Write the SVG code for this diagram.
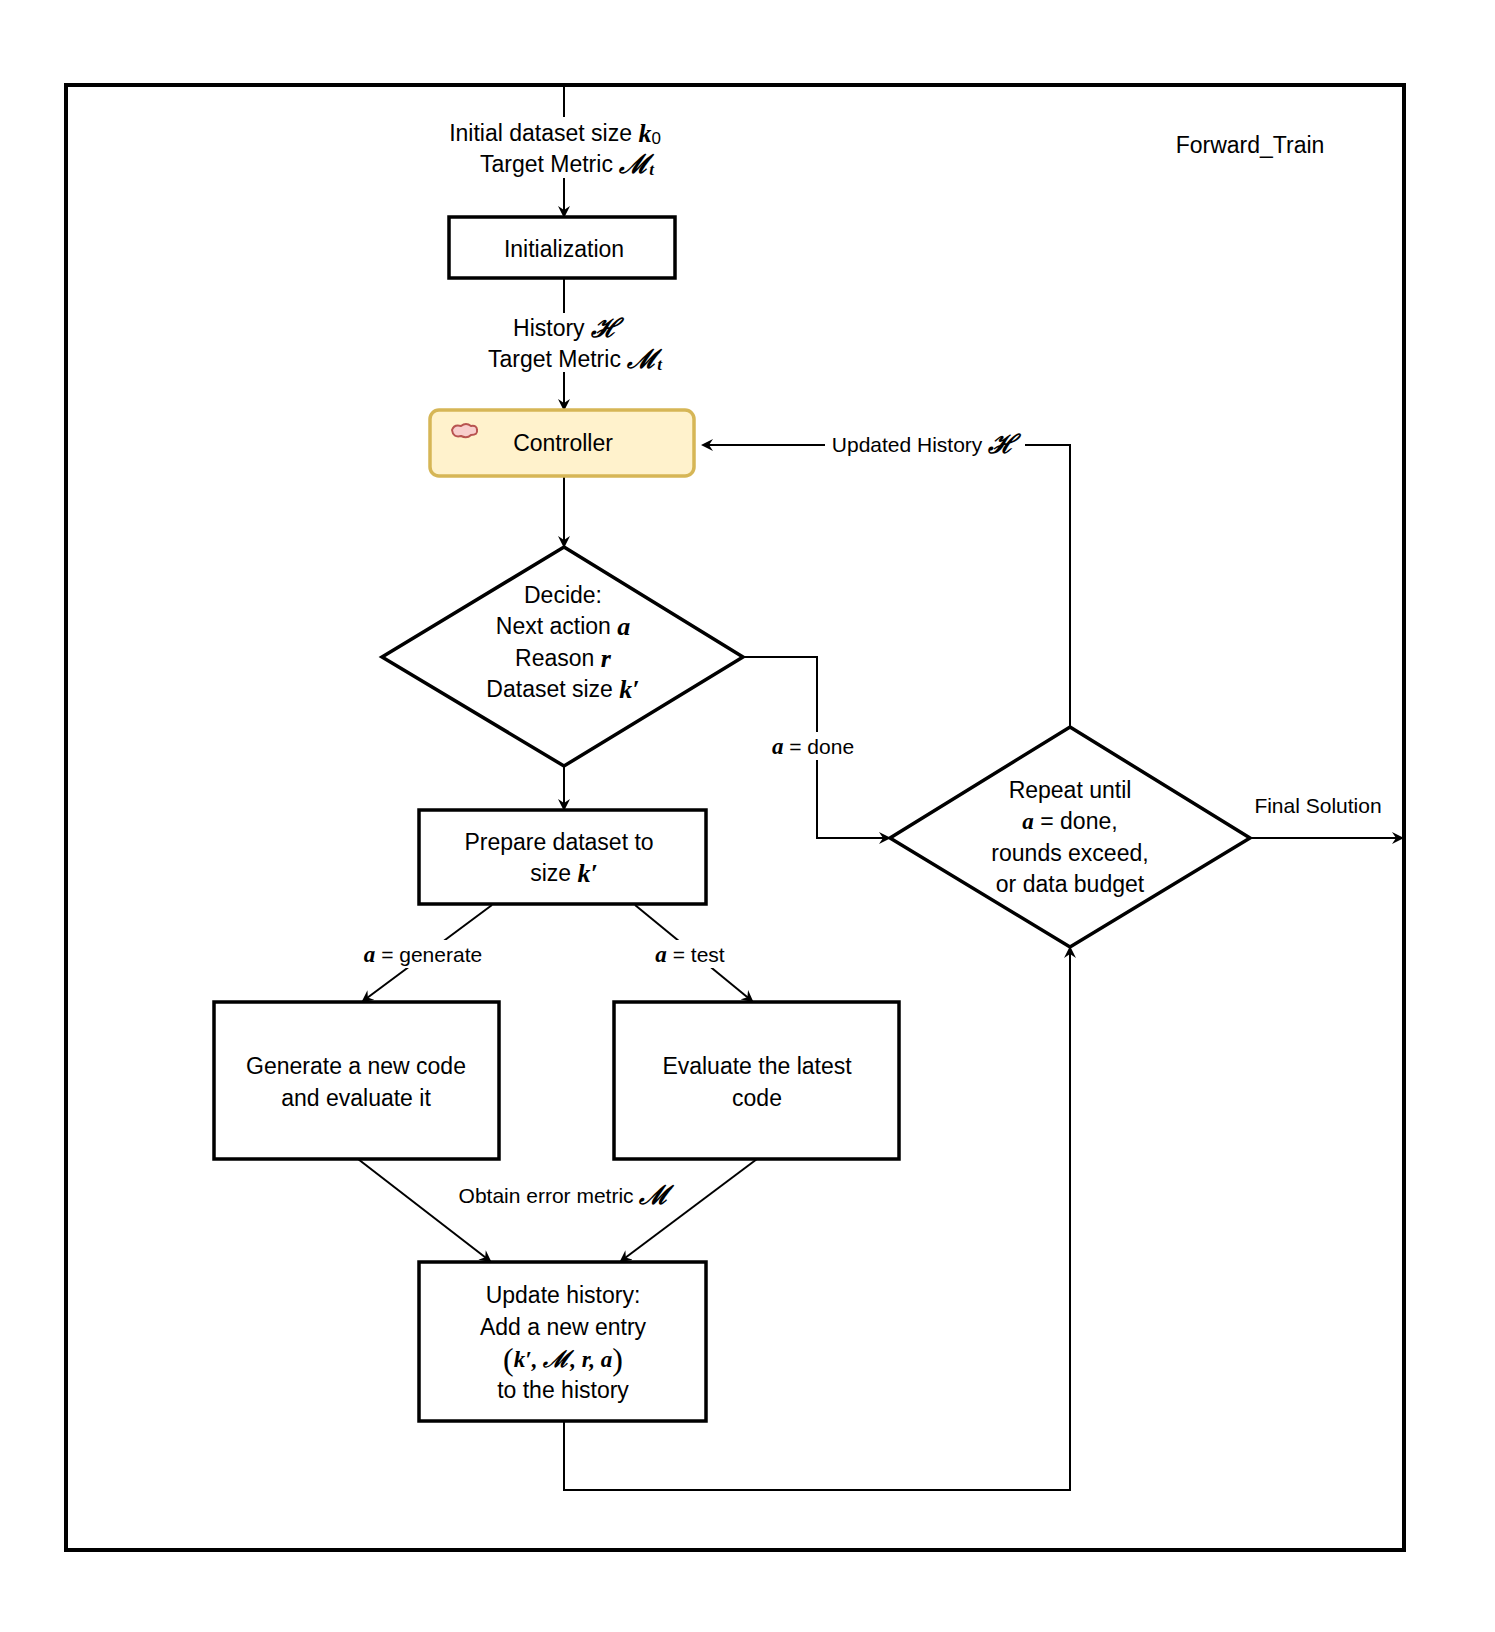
<svg xmlns="http://www.w3.org/2000/svg" width="1495" height="1632" viewBox="0 0 1495 1632">
<defs>
<marker id="ah" markerWidth="12" markerHeight="12" refX="10" refY="6" orient="auto" markerUnits="userSpaceOnUse"><path d="M0,0 L12,6 L0,12 L4,6 Z" fill="#000"/></marker>
<style>
text{font-family:"Liberation Sans",Arial,sans-serif;font-size:23px;fill:#000;text-anchor:middle;dominant-baseline:central}
.s{font-size:21px}
.m{font-family:"Liberation Serif","DejaVu Serif",serif;font-style:italic;font-weight:bold}
.box{fill:#fff;stroke:#000;stroke-width:3.5}
.c{fill:none;stroke:#000;stroke-width:2;marker-end:url(#ah)}
.l{fill:none;stroke:#000;stroke-width:2}
</style>
</defs>
<rect width="1495" height="1632" fill="#fff"/>
<rect x="66" y="85" width="1338" height="1465" fill="none" stroke="#000" stroke-width="4"/>
<text x="1250" y="145">Forward_Train</text>
<g id="connectors">
<line class="l" x1="564" y1="87" x2="564" y2="117"/>
<line class="c" x1="564" y1="178" x2="564" y2="216"/>
<line class="l" x1="564" y1="278" x2="564" y2="313"/>
<line class="c" x1="564" y1="372" x2="564" y2="409"/>
<line class="c" x1="564" y1="476" x2="564" y2="546"/>
<line class="c" x1="564" y1="766" x2="564" y2="809"/>
<polyline class="c" points="743,657 817,657 817,838 889,838"/>
<polyline class="c" points="1070,727 1070,445 703,445"/>
<line class="c" x1="1250" y1="838" x2="1402" y2="838"/>
<line class="c" x1="492" y1="905" x2="363" y2="1001"/>
<line class="c" x1="635" y1="905" x2="752" y2="1001"/>
<line class="c" x1="358" y1="1159" x2="490" y2="1261"/>
<line class="c" x1="757" y1="1159" x2="621" y2="1261"/>
<polyline class="c" points="564,1421 564,1490 1070,1490 1070,948"/>
<rect x="405" y="120" width="300" height="58" fill="#fff"/>
<text x="555" y="133">Initial dataset size <tspan class="m" font-size="26">k</tspan><tspan font-size="17" dy="5">0</tspan></text>
<text x="567" y="164">Target Metric <tspan class="m" font-size="26">ℳ</tspan><tspan class="m" font-size="17" dy="5">t</tspan></text>
<rect x="470" y="313" width="210" height="58" fill="#fff"/>
<text x="566" y="328">History <tspan class="m" font-size="26">ℋ</tspan></text>
<text x="575" y="359">Target Metric <tspan class="m" font-size="26">ℳ</tspan><tspan class="m" font-size="17" dy="5">t</tspan></text>
<rect x="825" y="430" width="200" height="30" fill="#fff"/>
<text x="924" y="444" class="s">Updated History <tspan class="m" font-size="26">ℋ</tspan></text>
<rect x="760" y="732" width="110" height="28" fill="#fff"/>
<text x="813" y="746" class="s"><tspan class="m" font-size="23">a</tspan>  = done</text>
<text x="1318" y="805" class="s">Final Solution</text>
<rect x="350" y="940" width="150" height="28" fill="#fff"/>
<text x="423" y="954" class="s"><tspan class="m" font-size="23">a</tspan> = generate</text>
<rect x="640" y="940" width="100" height="28" fill="#fff"/>
<text x="690" y="954" class="s"><tspan class="m" font-size="23">a</tspan> = test</text>
<text x="564" y="1195" class="s">Obtain error metric <tspan class="m" font-size="26">ℳ</tspan></text>
</g>
<g id="init"><rect class="box" x="449" y="217" width="226" height="61"/><text x="564" y="249">Initialization</text></g>
<g id="controller"><rect x="430" y="410" width="264" height="66" rx="9" fill="#fff2cc" stroke="#d6b656" stroke-width="3.5"/>
<path d="M452,430 q2,-6 9,-4 q5,-4 10,0 q6,-1 6,4 q1,5 -6,5 q-4,4 -10,1 q-8,2 -9,-6z" fill="#f8cecc" stroke="#b85450" stroke-width="2"/>
<text x="563" y="443">Controller</text></g>
<g id="decide"><polygon class="box" points="564,547 743,657 564,766 382,657"/>
<text x="563" y="595">Decide:</text>
<text x="563" y="626">Next action <tspan class="m" font-size="26">a</tspan></text>
<text x="563" y="658">Reason <tspan class="m" font-size="26">r</tspan></text>
<text x="563" y="689">Dataset size <tspan class="m" font-size="26">k′</tspan></text></g>
<g id="prepare"><rect class="box" x="419" y="810" width="287" height="94"/>
<text x="559" y="842">Prepare dataset to</text><text x="564" y="873">size <tspan class="m" font-size="26">k′</tspan></text></g>
<g id="repeat"><polygon class="box" points="1070,727 1250,838 1070,947 890,838"/>
<text x="1070" y="790">Repeat until</text>
<text x="1070" y="821"><tspan class="m" font-size="23">a</tspan>  = done,</text>
<text x="1070" y="853">rounds exceed,</text>
<text x="1070" y="884">or data budget</text></g>
<g id="generate"><rect class="box" x="214" y="1002" width="285" height="157"/>
<text x="356" y="1066">Generate a new code</text><text x="356" y="1098">and evaluate it</text></g>
<g id="evaluate"><rect class="box" x="614" y="1002" width="285" height="157"/>
<text x="757" y="1066">Evaluate the latest</text><text x="757" y="1098">code</text></g>
<g id="update"><rect class="box" x="419" y="1262" width="287" height="159"/>
<text x="563" y="1295">Update history:</text>
<text x="563" y="1327">Add a new entry</text>
<text x="563" y="1359" class="m" font-size="28"><tspan font-style="normal" font-weight="normal" font-size="32">(</tspan>k′, ℳ, r, a<tspan font-style="normal" font-weight="normal" font-size="32">)</tspan></text>
<text x="563" y="1390">to the history</text></g>
</svg>
